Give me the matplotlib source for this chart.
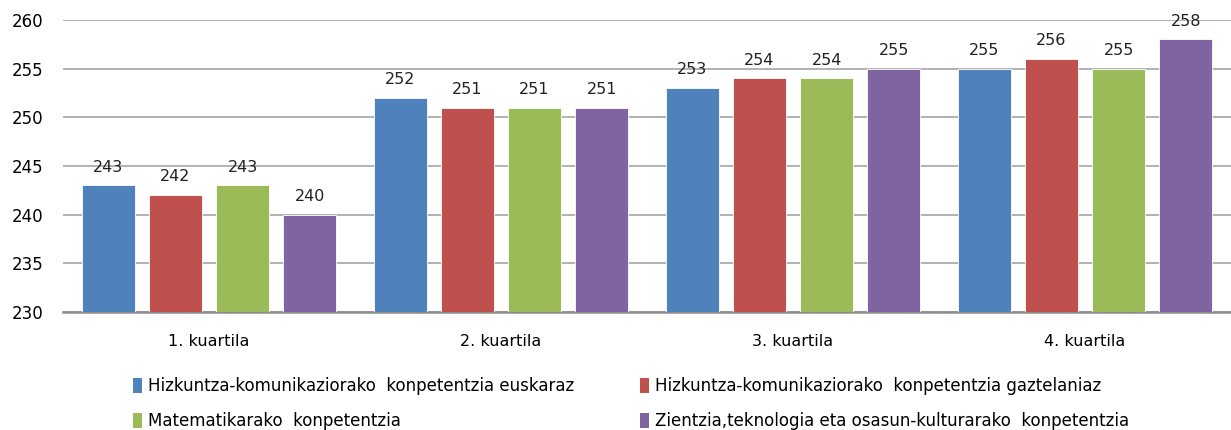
import numpy as np
import matplotlib
matplotlib.use("Agg")
import matplotlib.pyplot as plt
from matplotlib.patches import Patch

plt.rcParams['font.family'] = ['DejaVu Sans']

categories = ['1. kuartila', '2. kuartila', '3. kuartila', '4. kuartila']
series_names = [
    'Hizkuntza-komunikaziorako  konpetentzia euskaraz',
    'Hizkuntza-komunikaziorako  konpetentzia gaztelaniaz',
    'Matematikarako  konpetentzia',
    'Zientzia,teknologia eta osasun-kulturarako  konpetentzia',
]
euskaraz = [243, 252, 253, 255]
gaztelaniaz = [242, 251, 254, 256]
matematika = [243, 251, 254, 255]
zientzia = [240, 251, 255, 258]
colors = ['#4f81bd', '#c0504d', '#9bbb59', '#8064a2']

fig = plt.figure(figsize=(12.31, 4.30), dpi=100)
ax = fig.add_axes([0.0512, 0.2744, 0.9488, 0.6791])

x = np.arange(len(categories))
pitch = 0.23
width = 0.18
all_series = [euskaraz, gaztelaniaz, matematika, zientzia]
for i, (vals, c) in enumerate(zip(all_series, colors)):
    pos = x + (i - 1.5) * pitch
    ax.bar(pos, np.array(vals) - 230, bottom=230, width=width, color=c,
           edgecolor='white', linewidth=0.6, zorder=3)
    for p, v in zip(pos, vals):
        ax.text(p, v + 1.1, str(v), ha='center', va='bottom', fontsize=11.5,
                color='#222222', zorder=4)

ax.set_xlim(-0.5, 3.5)
ax.set_ylim(230, 260)
ax.set_yticks(range(230, 261, 5))
ax.tick_params(axis='y', length=0, labelsize=12, pad=14)
ax.tick_params(axis='x', length=0, labelsize=11.5, pad=16)
ax.set_xticks(x)
ax.set_xticklabels(categories)
ax.grid(axis='y', color='#a6a6a6', linewidth=1.2, zorder=0)
for s in ['top', 'right', 'left']:
    ax.spines[s].set_visible(False)
ax.spines['bottom'].set_color('#8c8c8c')
ax.spines['bottom'].set_linewidth(1.8)

# legend fills column-wise, so order handles to read row by row
order = [0, 2, 1, 3]
handles = [Patch(facecolor=colors[k], label=series_names[k]) for k in order]
fig.legend(handles=handles, ncol=2, loc='upper left', bbox_to_anchor=(0.096, 0.157),
           frameon=False, handlelength=0.5, handleheight=1.0,
           handletextpad=0.4, columnspacing=3.95, labelspacing=1.0,
           prop={'family': ['DejaVu Sans'], 'size': 12})

fig.savefig('out.png', dpi=100)
